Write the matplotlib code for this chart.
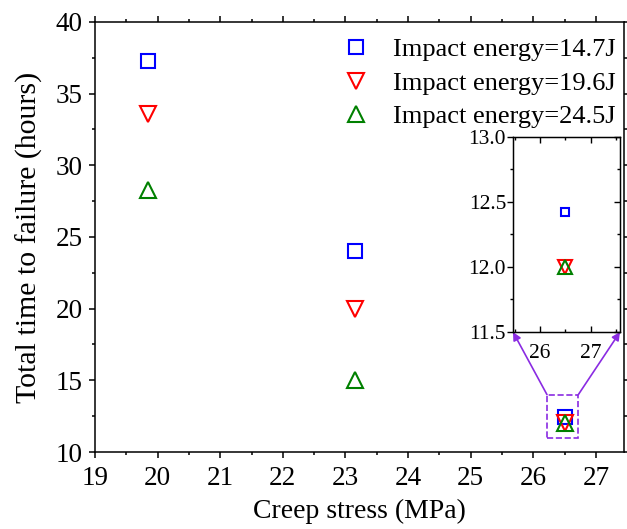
import matplotlib
matplotlib.use("Agg")
import matplotlib.pyplot as plt
from matplotlib.patches import Rectangle
from matplotlib.ticker import MultipleLocator

plt.rcParams['font.family'] = ['Liberation Serif', 'DejaVu Serif']

# данные: напряжение ползучести (МПа) и время до разрушения (ч)
stress = [19.85, 23.15, 26.5]
labels = ['Impact energy=14.7J', 'Impact energy=19.6J', 'Impact energy=24.5J']
t_147 = [37.3, 24.0, 12.42]
t_196 = [33.6, 20.0, 12.0]
t_245 = [28.3, 15.0, 12.0]
series = [t_147, t_196, t_245]
markers = ['s', 'v', '^']
colors = ['#0000ff', '#ff0000', '#008000']
sizes = [10, 11, 11]
inset_sizes = [6, 9.5, 10.5]

fig = plt.figure(figsize=(6.27, 5.29), dpi=100)
ax = fig.add_axes([95 / 627, 77 / 529, 529 / 627, 430 / 529])

for y, m, c, s, lab in zip(series, markers, colors, sizes, labels):
    ax.plot(stress, y, linestyle='none', marker=m, markersize=s,
            markerfacecolor='none', markeredgecolor=c, markeredgewidth=1.5,
            label=lab)

ax.set_xlim(19, 27.45)
ax.set_ylim(10, 40)
ax.xaxis.set_major_locator(MultipleLocator(1))
ax.xaxis.set_minor_locator(MultipleLocator(0.5))
ax.yaxis.set_major_locator(MultipleLocator(5))
ax.yaxis.set_minor_locator(MultipleLocator(2.5))
ax.tick_params(which='both', direction='out', top=True, right=True,
               width=1.1, labelsize=19.5)
ax.tick_params(which='major', length=4)
ax.tick_params(axis='x', which='major', pad=6)
ax.tick_params(axis='y', which='major', pad=5)
ax.tick_params(which='minor', length=2.5)
for sp in ax.spines.values():
    sp.set_linewidth(1.1)
ax.set_xlabel('Creep stress (MPa)', fontsize=20, labelpad=6)
ax.set_ylabel('Total time to failure (hours)', fontsize=21.5, labelpad=9)

ax.legend(loc='upper left', bbox_to_anchor=(248 / 529, 1 - 16 / 430),
          frameon=False, fontsize=19, handlelength=1.0, handletextpad=0.9,
          labelspacing=0.38, borderpad=0, borderaxespad=0)

# пунктирная рамка увеличенной области
purple = '#8a2be2'
ax.add_patch(Rectangle((26.22, 11.0), 0.5, 3.0, fill=False, edgecolor=purple,
                       linestyle='--', linewidth=1.2))

# врезка
axin = fig.add_axes([513 / 627, 197 / 529, 107 / 627, 195 / 529])
for y, m, c, s in zip(series, markers, colors, inset_sizes):
    axin.plot(stress[-1:], y[-1:], linestyle='none', marker=m, markersize=s,
              markerfacecolor='none', markeredgecolor=c, markeredgewidth=1.5)
axin.set_xlim(25.47, 27.57)
axin.set_ylim(11.5, 13.0)
axin.xaxis.set_major_locator(MultipleLocator(1))
axin.xaxis.set_minor_locator(MultipleLocator(0.5))
axin.yaxis.set_major_locator(MultipleLocator(0.5))
axin.yaxis.set_minor_locator(MultipleLocator(0.25))
axin.yaxis.set_major_formatter(plt.FormatStrFormatter('%.1f'))
axin.tick_params(axis='x', which='both', direction='in', top=True,
                 width=1.0, labelsize=15.5, pad=9)
axin.tick_params(axis='y', which='both', direction='out', width=1.0,
                 labelsize=15.5, pad=1)
axin.tick_params(which='major', length=4)
axin.tick_params(which='minor', length=2.5)
for sp in axin.spines.values():
    sp.set_linewidth(1.0)

axr = axin.twinx()
axr.set_ylim(11.5, 13.0)
axr.yaxis.set_major_locator(MultipleLocator(0.5))
axr.yaxis.set_minor_locator(MultipleLocator(0.25))
axr.tick_params(which='both', direction='in', width=1.0, labelright=False)
axr.tick_params(which='major', length=4)
axr.tick_params(which='minor', length=2.5)

# стрелки от рамки к врезке
arrow = dict(arrowstyle='-|>', color=purple, lw=1.2, mutation_scale=12,
             shrinkA=0, shrinkB=0)
ax.annotate('', xy=(0, 0), xycoords=axin.transAxes,
            xytext=(26.22, 14.0), textcoords='data', arrowprops=arrow)
ax.annotate('', xy=(1, 0), xycoords=axin.transAxes,
            xytext=(26.72, 14.0), textcoords='data', arrowprops=arrow)

fig.savefig('out.png', dpi=100)
